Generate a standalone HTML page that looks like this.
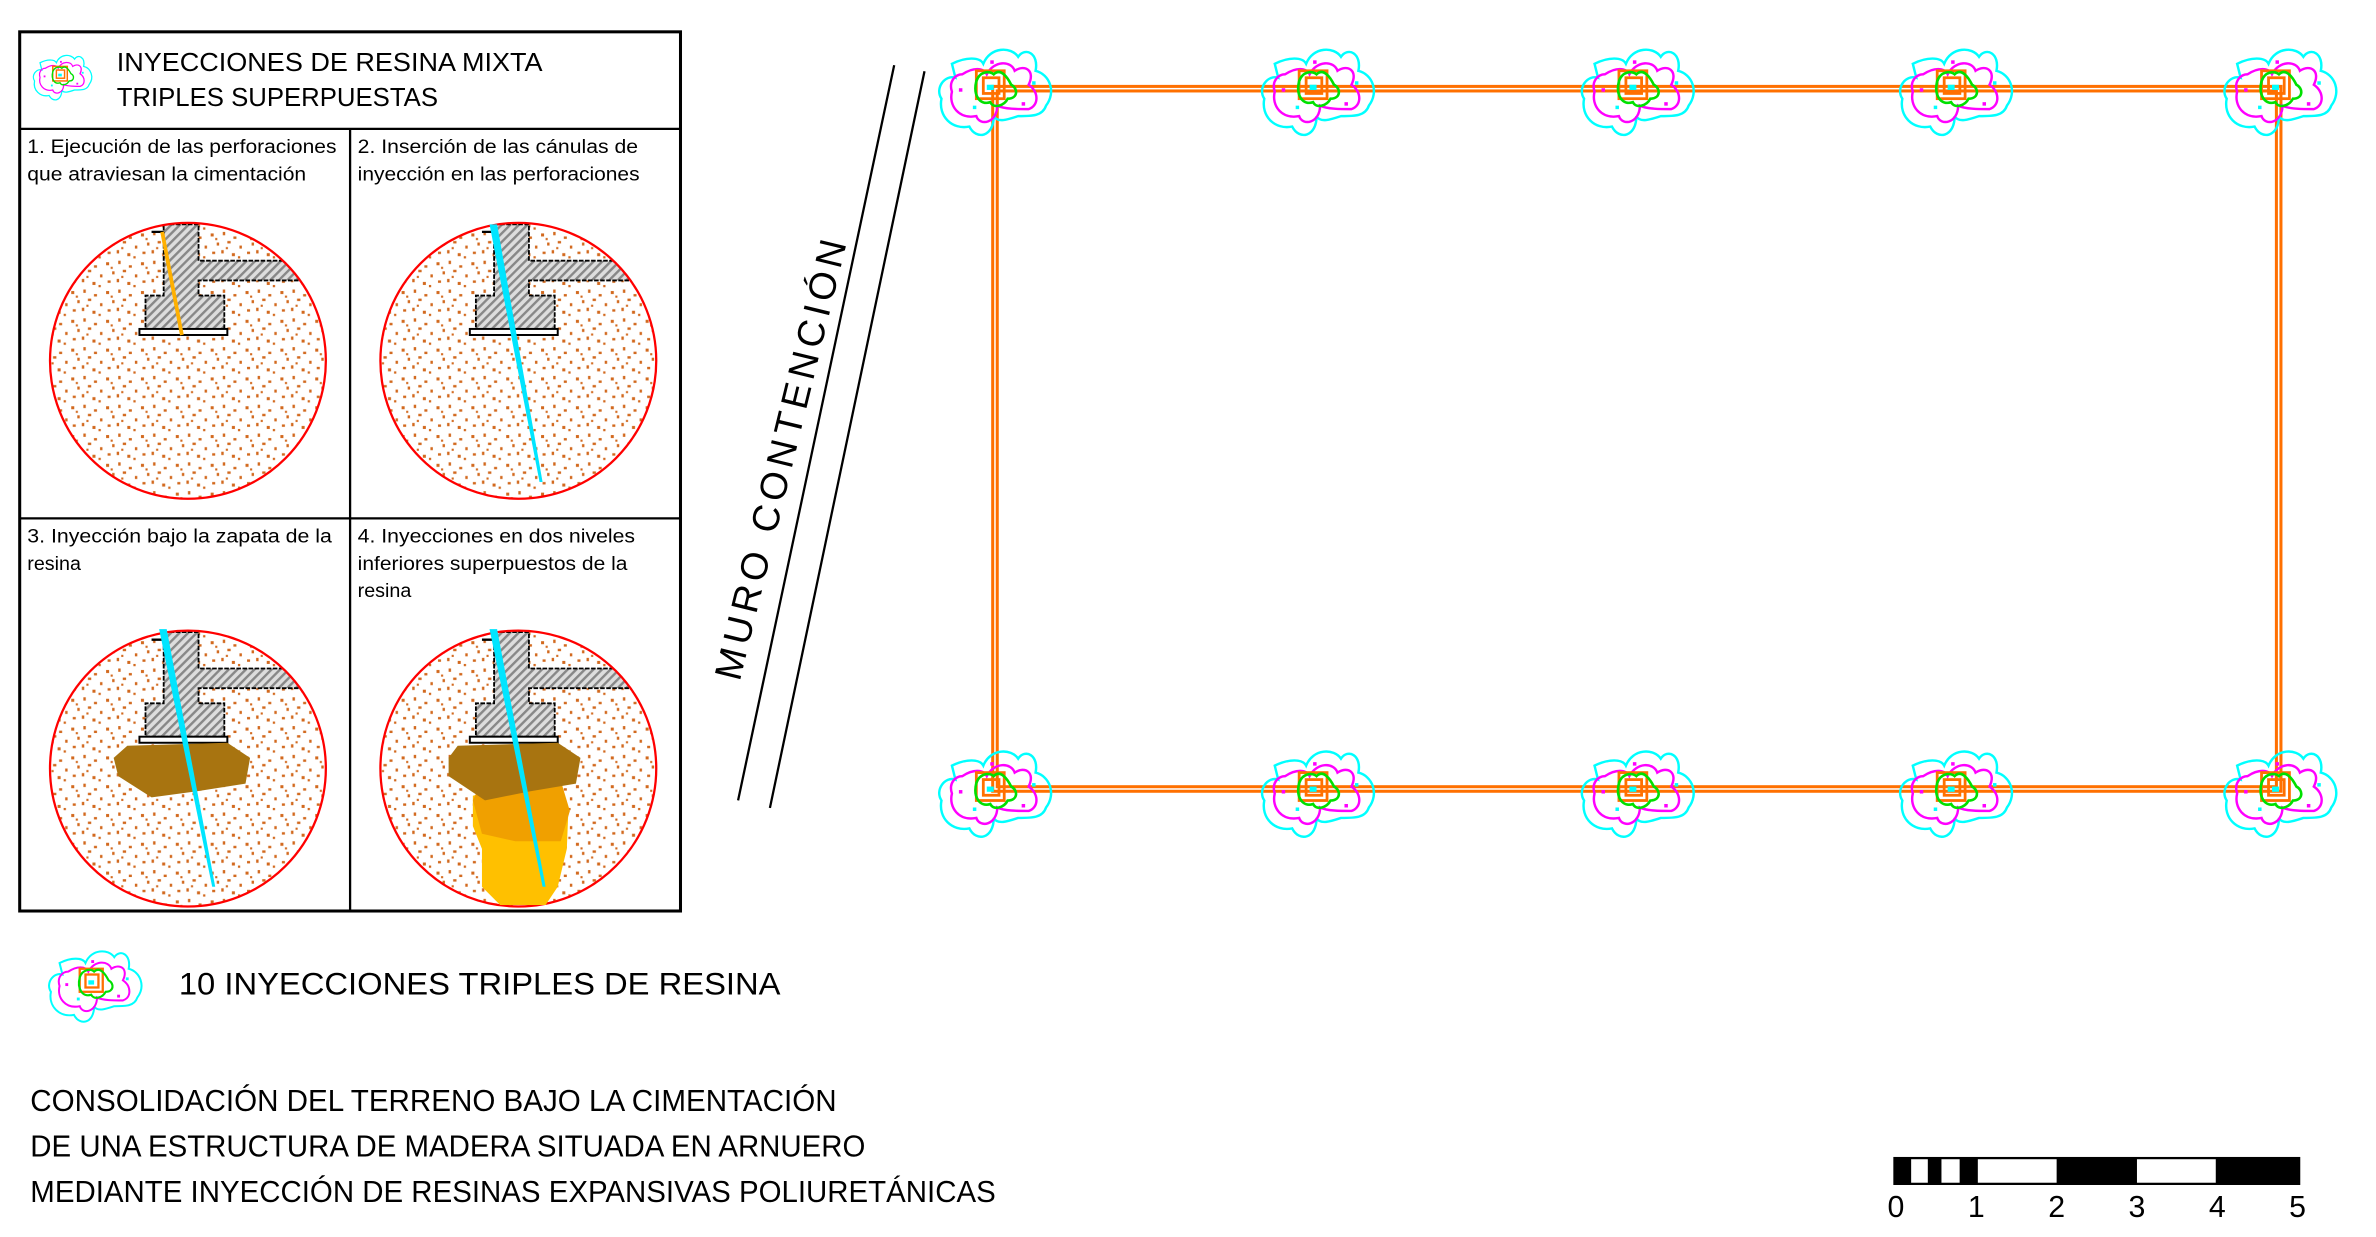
<!DOCTYPE html>
<html><head><meta charset="utf-8"><style>html,body{margin:0;padding:0;background:#fff}svg{display:block}text{font-family:"Liberation Sans Narrow","Liberation Sans",sans-serif;fill:#000}</style></head><body>
<svg width="2376" height="1237" viewBox="0 0 1558 811" preserveAspectRatio="none" xmlns="http://www.w3.org/2000/svg">
<defs>
<pattern id="dots" width="23" height="19" patternUnits="userSpaceOnUse">
<g fill="#d2691e">
<rect x="1" y="2" width="2" height="2"/><rect x="9" y="1" width="1.6" height="2.2"/><rect x="16" y="4" width="2" height="1.6"/>
<rect x="5" y="8" width="1.6" height="2"/><rect x="12" y="7" width="2.2" height="1.6"/><rect x="20" y="10" width="1.6" height="2"/>
<rect x="2" y="14" width="2" height="1.6"/><rect x="8" y="13" width="1.6" height="2.2"/><rect x="15" y="15" width="2" height="2"/>
<rect x="19" y="17" width="1.5" height="1.5"/><rect x="11" y="11" width="1.4" height="1.4"/><rect x="4" y="5" width="1.4" height="1.4"/>
</g></pattern>
<pattern id="hatch" width="4" height="4" patternUnits="userSpaceOnUse" patternTransform="rotate(45)">
<rect width="4" height="4" fill="#ddd"/><rect width="1.6" height="4" fill="#888"/></pattern>
<g id="foot">
<path d="M108 148 H131 V172 H200 V185 H131 V195 H148 V217 H96 V195 H108 Z" fill="url(#hatch)" stroke="#000" stroke-width="1.2" stroke-dasharray="3 1"/>
<rect x="92" y="217" width="58" height="4" fill="#fff" stroke="#000" stroke-width="1.3"/>
<line x1="100" y1="153" x2="108" y2="153" stroke="#000" stroke-width="1.5"/>
</g>
<clipPath id="c1"><circle cx="124" cy="238" r="91"/></clipPath>
<symbol id="inj" viewBox="-40 -30 80 60" overflow="visible">
<path d="M-26 -16 C-18 -20 -10 -20 -8 -16 C-4 -26 8 -26 12 -20 C16 -26 24 -22 22 -12 C30 -10 34 0 28 8 C26 14 20 14 12 14 C6 16 0 18 -2 14 C-2 26 -12 28 -16 20 C-26 22 -34 14 -32 4 C-36 -2 -30 -10 -24 -8 Z" fill="none" stroke="#00ffff" stroke-width="1.4"/>
<path d="M-20 -10 C-14 -14 -8 -14 -6 -10 C-2 -18 8 -18 10 -12 C16 -16 22 -12 18 -4 C24 0 24 8 18 10 C12 10 4 10 0 8 C0 18 -10 20 -12 14 C-22 16 -28 8 -26 0 C-28 -6 -24 -10 -20 -10 Z" fill="none" stroke="#ff00ff" stroke-width="1.4"/>
<rect x="-12" y="-12" width="16" height="16" fill="none" stroke="#ff7000" stroke-width="1.6"/>
<rect x="-8" y="-8" width="9" height="9" fill="none" stroke="#ff7000" stroke-width="1.6"/>
<path d="M-12 -6 C-10 -12 -4 -12 -2 -10 C2 -14 6 -8 8 -4 C12 -2 12 4 6 4 C4 8 -2 10 -4 6 C-10 8 -14 2 -12 -6 Z" fill="none" stroke="#00e000" stroke-width="1.5"/>
<g fill="#ff00ff"><rect x="-22" y="-2" width="2" height="2"/><rect x="14" y="6" width="2" height="2"/><rect x="-4" y="-18" width="2" height="2"/></g>
<g fill="#00ffff"><rect x="-6" y="-4" width="4" height="3"/><rect x="-14" y="8" width="2" height="2"/><rect x="20" y="-6" width="2" height="2"/></g>
</symbol>
</defs>
<g transform="scale(0.9938)">
<rect x="13" y="21" width="436" height="580" fill="none" stroke="#000" stroke-width="2"/>
<line x1="13" y1="85" x2="449" y2="85" stroke="#000" stroke-width="1.5"/>
<line x1="231" y1="85" x2="231" y2="601" stroke="#000" stroke-width="1.5"/>
<line x1="13" y1="342" x2="449" y2="342" stroke="#000" stroke-width="1.5"/>
<use href="#inj" x="18" y="33" width="48" height="36"/>
<text x="77" y="47" font-size="17" textLength="281" lengthAdjust="spacingAndGlyphs">INYECCIONES DE RESINA MIXTA</text>
<text x="77" y="70" font-size="17" textLength="212" lengthAdjust="spacingAndGlyphs">TRIPLES SUPERPUESTAS</text>
<g font-size="13">
<text x="18" y="101" textLength="204" lengthAdjust="spacingAndGlyphs">1. Ejecución de las perforaciones</text>
<text x="18" y="119" textLength="184" lengthAdjust="spacingAndGlyphs">que atraviesan la cimentación</text>
<text x="236" y="101" textLength="185" lengthAdjust="spacingAndGlyphs">2. Inserción de las cánulas de</text>
<text x="236" y="119" textLength="186" lengthAdjust="spacingAndGlyphs">inyección en las perforaciones</text>
<text x="18" y="358" textLength="201" lengthAdjust="spacingAndGlyphs">3. Inyección bajo la zapata de la</text>
<text x="18" y="376">resina</text>
<text x="236" y="358" textLength="183" lengthAdjust="spacingAndGlyphs">4. Inyecciones en dos niveles</text>
<text x="236" y="376" textLength="178" lengthAdjust="spacingAndGlyphs">inferiores superpuestos de la</text>
<text x="236" y="394">resina</text>
</g>

<g id="cir1">
<circle cx="124" cy="238" r="91" fill="url(#dots)"/>
<g clip-path="url(#c1)"><use href="#foot"/></g>
<circle cx="124" cy="238" r="91" fill="none" stroke="#f00" stroke-width="1.5"/>
</g>
<line x1="107" y1="153" x2="120" y2="221" stroke="#ffb000" stroke-width="2.5"/>
<use href="#cir1" x="218" y="0"/>
<polygon points="323,148 328,148 358,318 356,318" fill="#00e5ff"/>
<use href="#cir1" x="0" y="269"/>
<path d="M84 492 L150 490 L165 500 L162 517 L130 522 L100 526 L78 512 L75 500 Z" fill="#a87410"/>
<polygon points="105,415 110,415 142,585 140,585" fill="#00e5ff"/>
<use href="#cir1" x="218" y="269"/>
<path d="M318 560 L312 545 L312 525 L330 520 L362 520 L375 535 L374 560 L368 585 L360 597 L330 597 L318 585 Z" fill="#ffc000"/>
<path d="M312 528 L318 515 L370 515 L376 535 L370 555 L340 555 L318 550 Z" fill="#f0a000"/>
<path d="M302 492 L368 490 L383 500 L380 517 L350 522 L320 528 L296 512 L296 500 Z" fill="#a87410"/>
<polygon points="323,415 328,415 360,585 358,585" fill="#00e5ff"/>

<line x1="590" y1="43" x2="487" y2="528" stroke="#000" stroke-width="1.5"/>
<line x1="610" y1="47" x2="508" y2="533" stroke="#000" stroke-width="1.5"/>
<text transform="translate(488,450) rotate(-76.3)" font-family="Liberation Sans,sans-serif" font-size="25" letter-spacing="2" textLength="300" lengthAdjust="spacing">MURO CONTENCIÓN</text>

<g fill="none" stroke="#ff7000" stroke-width="2">
<rect x="655" y="57" width="850" height="465"/>
<rect x="658" y="60" width="844" height="459"/>
</g>
<g>
<use href="#inj" x="612" y="26" width="92" height="69"/>
<use href="#inj" x="825" y="26" width="92" height="69"/>
<use href="#inj" x="1036" y="26" width="92" height="69"/>
<use href="#inj" x="1246" y="26" width="92" height="69"/>
<use href="#inj" x="1460" y="26" width="92" height="69"/>
<use href="#inj" x="612" y="489" width="92" height="69"/>
<use href="#inj" x="825" y="489" width="92" height="69"/>
<use href="#inj" x="1036" y="489" width="92" height="69"/>
<use href="#inj" x="1246" y="489" width="92" height="69"/>
<use href="#inj" x="1460" y="489" width="92" height="69"/>
</g>

<use href="#inj" x="26" y="622" width="76" height="57"/>
<text x="118" y="656" font-size="21" textLength="397" lengthAdjust="spacingAndGlyphs">10 INYECCIONES TRIPLES DE RESINA</text>
<g font-size="20">
<text x="20" y="733" textLength="532" lengthAdjust="spacingAndGlyphs">CONSOLIDACIÓN DEL TERRENO BAJO LA CIMENTACIÓN</text>
<text x="20" y="763" textLength="551" lengthAdjust="spacingAndGlyphs">DE UNA ESTRUCTURA DE MADERA SITUADA EN ARNUERO</text>
<text x="20" y="793" textLength="637" lengthAdjust="spacingAndGlyphs">MEDIANTE INYECCIÓN DE RESINAS EXPANSIVAS POLIURETÁNICAS</text>
</g>

<rect x="1250" y="764" width="267" height="17" fill="#fff" stroke="#000" stroke-width="1.5"/>
<g fill="#000">
<rect x="1250" y="764" width="11" height="17"/><rect x="1272" y="764" width="9" height="17"/><rect x="1293" y="764" width="12" height="17"/>
<rect x="1357" y="764" width="53" height="17"/><rect x="1462" y="764" width="55" height="17"/>
</g>
<g font-size="20" font-family="Liberation Sans,sans-serif" text-anchor="middle">
<text x="1251" y="803">0</text><text x="1304" y="803">1</text><text x="1357" y="803">2</text><text x="1410" y="803">3</text><text x="1463" y="803">4</text><text x="1516" y="803">5</text>
</g>
</g>
</svg>
</body></html>
